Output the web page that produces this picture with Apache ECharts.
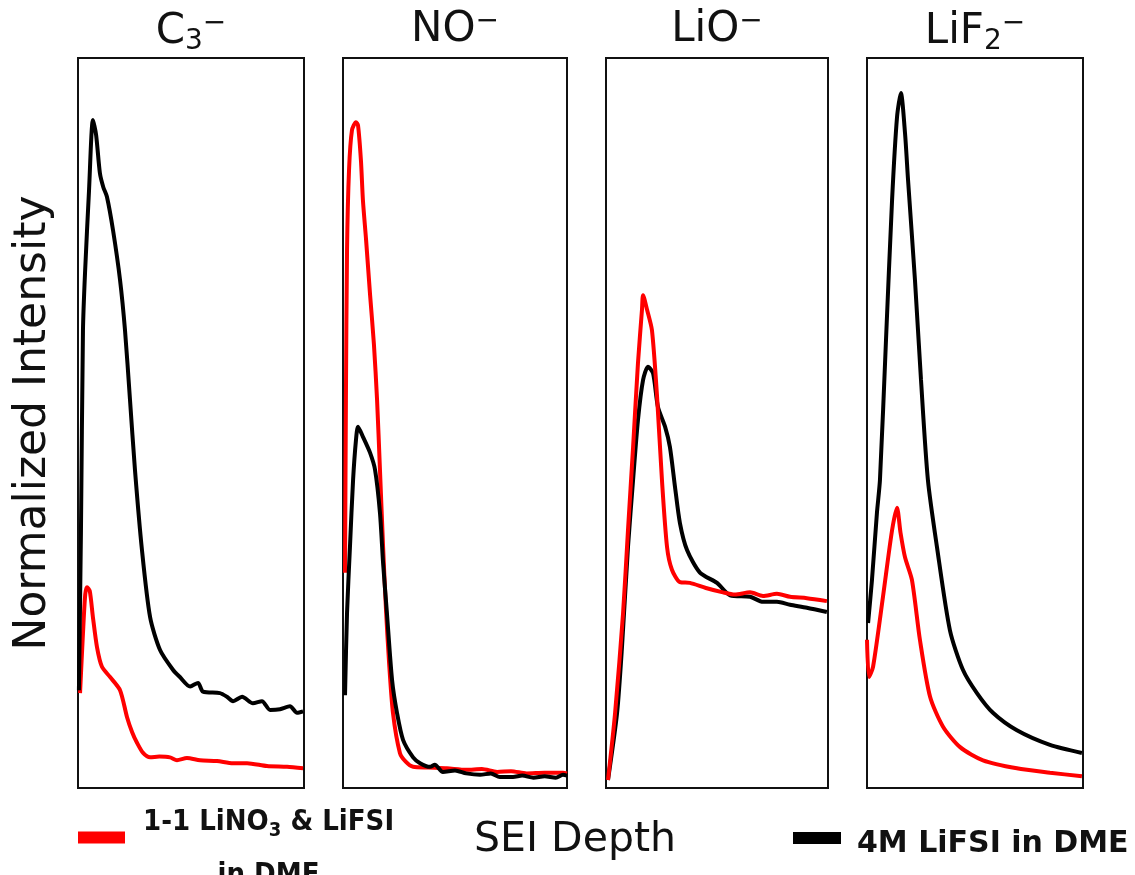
<!DOCTYPE html>
<html><head><meta charset="utf-8">
<script src="https://cdn.jsdelivr.net/npm/echarts@6/dist/echarts.min.js"></script>
<style>html,body{margin:0;padding:0;background:#fff}#c{width:1135px;height:875px}</style>
</head><body><div id="c"></div>
<script>
// ---- data (x: relative SEI depth 0-100, y: normalized intensity 0-100) ----
const panelTitles = ['{b|C}{sub|3}{sup|−}', '{b|NO}{sup|−}', '{b|LiO}{sup|−}', '{b|LiF}{sub|2}{sup|−}'];
const seriesNames = ['1-1 LiNO3 & LiFSI in DME', '4M LiFSI in DME'];

const c3Red = [[0.9,13.0],[2.2,21.2],[3.2,26.5],[4.0,27.5],[5.2,27.0],[6.6,23.4],[8.4,19.3],[10.6,16.6],[14.2,15.2],[18.6,13.4],[21.7,9.7],[24.0,7.6],[26.1,6.2],[28.8,4.8],[31.9,4.2],[36,4.3],[40.7,4.2],[43.8,3.8],[48.2,4.1],[54.0,3.8],[61.5,3.7],[68.6,3.4],[74.8,3.4],[83.6,3.0],[92.5,2.9],[99.6,2.7]];
const c3Black = [[0.4,13.4],[1.3,35],[2.2,62.7],[3.1,70.5],[4.9,82],[6.6,91.5],[8.0,89.5],[9.7,84.2],[11.2,82.3],[12.8,81.0],[15.5,76.4],[18.6,69.6],[20.8,62.7],[23.0,53.2],[25.2,43.6],[28.3,32.6],[31.9,23.4],[36.3,18.9],[42.0,16.2],[45.1,15.2],[49.6,13.9],[53.1,14.4],[55.3,13.2],[62.8,13.0],[65.9,12.5],[68.6,11.9],[72.6,12.5],[77.4,11.6],[81.4,11.9],[85.0,10.7],[89.4,10.8],[93.8,11.2],[96.9,10.3],[99.6,10.5]];

const noRed = [[0.9,29.5],[1.3,53],[1.8,73.7],[2.7,84.7],[4.0,90.1],[5.8,91.2],[6.7,90.8],[8.0,86.0],[8.9,80.5],[10.3,75.1],[12.1,67.5],[13.8,60.8],[15.2,53.2],[16.5,43.6],[17.9,33.0],[19.2,24.4],[20.5,17.5],[22.3,10.3],[25.4,4.8],[28,3.6],[31.3,2.9],[38,2.8],[46.4,2.7],[55,2.5],[62,2.6],[68.8,2.2],[75,2.3],[82,2.0],[90,2.1],[98.2,2.1],[100,2.0]];
const noBlack = [[0.9,12.7],[1.8,24],[3.1,33.0],[4.5,42.2],[5.8,47.7],[6.7,49.5],[8.9,48.1],[12.1,45.9],[14.3,43.6],[16.5,37.7],[17.9,30.8],[19.6,24.0],[21.9,14.8],[24.1,10.3],[26.8,6.6],[31.3,4.2],[34.4,3.4],[38.8,2.9],[41,3.2],[44.6,2.2],[50,2.4],[55,2.0],[61.2,1.8],[66,2.0],[70,1.5],[75.9,1.5],[80,1.7],[85,1.4],[90,1.6],[95,1.4],[98.2,1.8],[100,1.7]];

const lioRed = [[0.9,1.1],[4.1,10.3],[7.7,24.0],[9.9,35.3],[12.2,46.7],[14.4,58.2],[16.2,65.5],[16.7,67.5],[18.5,65.5],[20.7,62.7],[23.0,53.6],[25.2,42.2],[27.5,33.0],[29.7,29.9],[33.3,28.2],[37.8,28.1],[45,27.4],[52.7,26.8],[58,26.5],[64.9,26.8],[70.7,26.3],[77,26.6],[82.9,26.2],[90.5,26.0],[99.5,25.6]];
const lioBlack = [[0.9,1.1],[5.0,10.3],[7.2,19.3],[9.9,33.0],[12.2,42.2],[14.4,50.4],[16.7,55.9],[18.9,57.7],[21.2,56.8],[23.4,52.2],[26.6,49.5],[28.8,46.7],[31.1,41.2],[33.3,36.3],[36.5,32.6],[42.3,29.5],[50.0,28.1],[55.9,26.4],[64.9,26.2],[70.7,25.5],[77.0,25.5],[82.9,25.1],[90.5,24.7],[99.5,24.1]];

const lif2Red = [[0,20.3],[0.9,15.2],[2.8,16.6],[7.4,26.2],[11.6,35.3],[13.9,38.4],[15.5,35],[17.6,31.6],[20.8,28.5],[24.5,20.3],[29.2,12.5],[35.2,8.4],[43.1,5.6],[53.7,3.8],[69.4,2.7],[84.7,2.1],[99.5,1.6]];
const lif2Black = [[0.5,22.6],[2.3,28.5],[4.6,37.7],[6.0,42.2],[8.8,61.4],[11.6,80.5],[13.9,91.9],[15.7,95.2],[17.6,89.7],[19.0,83.3],[22.2,69.6],[25.0,55.9],[28.2,42.2],[32.4,33.0],[38.4,21.6],[44.4,16.2],[50.9,13.0],[58.3,10.3],[69.4,7.9],[84.7,5.9],[99.5,4.8]];

const panelData = [[c3Red, c3Black], [noRed, noBlack], [lioRed, lioBlack], [lif2Red, lif2Black]];

// ---- layout / style ----
const panelBoxes = [{left:78,width:226},{left:343,width:224},{left:606,width:222},{left:867,width:216}];
const TOP = 58, HEIGHT = 730;
const RED = '#ff0000', BLACK = '#000000';
const FONT = 'DejaVu Sans';
const COND = 'DejaVu Sans Condensed, DejaVu Sans, sans-serif';

const chart = echarts.init(document.getElementById('c'), null, {renderer:'canvas'});

const grid = [], xAxis = [], yAxis = [], series = [], title = [];
panelBoxes.forEach((b, i) => {
  grid.push({left:b.left, top:TOP, width:b.width, height:HEIGHT, show:true, borderColor:'#111', borderWidth:2,
    backgroundColor:'transparent', containLabel:false, outerBoundsMode:'none'});
  xAxis.push({type:'value', gridIndex:i, min:0, max:100, show:false});
  const y = {type:'value', gridIndex:i, min:0, max:100, axisLine:{show:false}, axisTick:{show:false}, axisLabel:{show:false}, splitLine:{show:false}};
  if (i === 0) {
    Object.assign(y, {name:'Normalized Intensity', nameLocation:'middle', nameGap:22, nameRotate:90,
      nameTextStyle:{fontFamily:FONT, fontSize:44, fontWeight:'normal', color:'#111'}});
  }
  yAxis.push(y);
  title.push({text:panelTitles[i], left:b.left + b.width/2, top:8, textAlign:'center', padding:0,
    textStyle:{fontWeight:'normal', rich:{
      b:{fontFamily:FONT, fontSize:42, fontWeight:'normal', color:'#111', verticalAlign:'middle'},
      sub:{fontFamily:FONT, fontSize:28, fontWeight:'normal', color:'#111', verticalAlign:'middle', padding:[20,0,0,0]},
      sup:{fontFamily:FONT, fontSize:28, fontWeight:'normal', color:'#111', verticalAlign:'middle', padding:[0,0,16,0]}
    }}});
  const [r, k] = panelData[i];
  const redS = {name:seriesNames[0], type:'line', xAxisIndex:i, yAxisIndex:i, data:r, showSymbol:false, smooth:0.25,
    color:RED, lineStyle:{color:RED, width:4}, z:2};
  const blackS = {name:seriesNames[1], type:'line', xAxisIndex:i, yAxisIndex:i, data:k, showSymbol:false, smooth:0.25,
    color:BLACK, lineStyle:{color:BLACK, width:4}, z:3};
  if (i === 2) { blackS.z = 2; redS.z = 3; }
  series.push(redS, blackS);
});

title.push({text:'SEI Depth', left:575, top:820, textAlign:'center', padding:0,
  textStyle:{fontFamily:FONT, fontSize:41, fontWeight:'normal', color:'#111'}});

const legend = [
  {data:[seriesNames[0]], left:78, top:808, padding:0, icon:'rect', itemWidth:47, itemHeight:12,
   formatter:() => '{a|1-1 LiNO}{s|3}{a| & LiFSI}\n{b|in DME}',
   textStyle:{padding:[0,0,0,13], rich:{
     a:{fontFamily:COND, fontWeight:'bold', fontSize:29, color:'#111', lineHeight:76, verticalAlign:'middle'},
     s:{fontFamily:COND, fontWeight:'bold', fontSize:20, color:'#111', verticalAlign:'middle', padding:[16,0,0,0]},
     b:{fontFamily:COND, fontWeight:'bold', fontSize:29, color:'#111', lineHeight:30, align:'center'}
   }}},
  {data:[seriesNames[1]], left:793, top:829, padding:0, icon:'rect', itemWidth:48, itemHeight:12,
   formatter:() => '{a|4M LiFSI in DME}',
   textStyle:{padding:[0,0,0,11], rich:{
     a:{fontFamily:FONT, fontWeight:'bold', fontSize:30, color:'#111', verticalAlign:'middle', padding:[12,0,0,0]}
   }}}
];

chart.setOption({backgroundColor:'#fff', animation:false, title, legend, grid, xAxis, yAxis, series});
</script></body></html>
